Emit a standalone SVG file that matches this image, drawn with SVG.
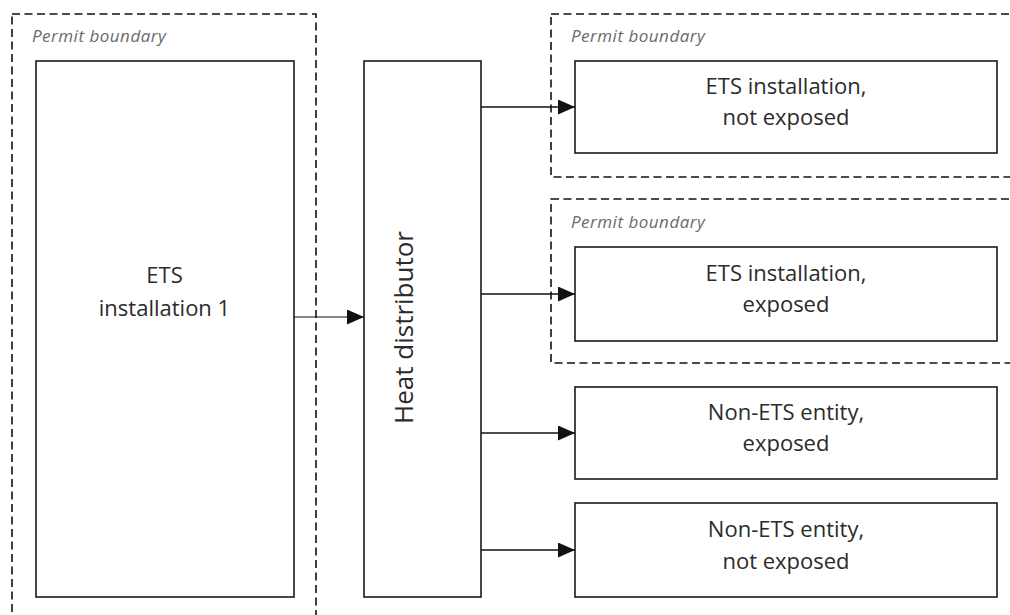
<svg xmlns="http://www.w3.org/2000/svg" width="1010" height="615" viewBox="0 0 1010 615">
  <style>
    .bg { fill: #ffffff; }
    .boundary { fill: none; stroke: #111; stroke-width: 1.6; stroke-dasharray: 8 4.5; }
    .box { fill: #ffffff; stroke: #1a1a1a; stroke-width: 1.6; }
    .label { font-family: "Open Sans", "Liberation Sans", sans-serif; font-size: 22px; fill: #2b2b2b; text-anchor: middle; }
    .big { font-size: 26px; }
    .caption { font-family: "Open Sans", "Liberation Sans", sans-serif; font-size: 17px; font-style: italic; fill: #6a6a6a; letter-spacing: 0.5px; }
    .conn { fill: none; stroke: #111; stroke-width: 1.6; }
    .thin { stroke-width: 1.1; }
  </style>
  <defs>
    <marker id="head" viewBox="0 0 17 15" refX="17" refY="7.5" markerWidth="17" markerHeight="15" markerUnits="userSpaceOnUse" orient="auto">
      <path d="M0,0 L17,7.5 L0,15 Z" fill="#111"/>
    </marker>
  </defs>

  <rect class="bg" x="0" y="0" width="1010" height="615"/>

  <!-- permit boundaries -->
  <g id="boundary-left">
    <rect class="boundary" x="12" y="14" width="304" height="620"/>
    <text class="caption" x="32" y="41.5">Permit boundary</text>
  </g>
  <g id="boundary-right-1">
    <rect class="boundary" x="551" y="14" width="480" height="163"/>
    <text class="caption" x="571" y="41.5">Permit boundary</text>
  </g>
  <g id="boundary-right-2">
    <rect class="boundary" x="551" y="199" width="480" height="164"/>
    <text class="caption" x="571" y="228">Permit boundary</text>
  </g>

  <!-- nodes -->
  <g id="ets-installation-1">
    <rect class="box" x="36" y="61" width="258" height="536"/>
    <text class="label" x="164.5" y="283">ETS</text>
    <text class="label" x="164.5" y="316">installation 1</text>
  </g>

  <g id="heat-distributor">
    <rect class="box" x="364" y="61" width="117" height="536"/>
    <text class="label big" transform="translate(413 327.5) rotate(-90)">Heat distributor</text>
  </g>

  <g id="ets-not-exposed">
    <rect class="box" x="575" y="61" width="422" height="92"/>
    <text class="label" x="786" y="94">ETS installation,</text>
    <text class="label" x="786" y="125">not exposed</text>
  </g>

  <g id="ets-exposed">
    <rect class="box" x="575" y="247" width="422" height="94"/>
    <text class="label" x="786" y="281">ETS installation,</text>
    <text class="label" x="786" y="312">exposed</text>
  </g>

  <g id="non-ets-exposed">
    <rect class="box" x="575" y="387" width="422" height="92"/>
    <text class="label" x="786" y="420">Non-ETS entity,</text>
    <text class="label" x="786" y="451">exposed</text>
  </g>

  <g id="non-ets-not-exposed">
    <rect class="box" x="575" y="503" width="422" height="94"/>
    <text class="label" x="786" y="537">Non-ETS entity,</text>
    <text class="label" x="786" y="569">not exposed</text>
  </g>

  <!-- connectors -->
  <g id="connectors">
    <line class="conn thin" x1="294" y1="317" x2="364" y2="317" marker-end="url(#head)"/>
    <line class="conn" x1="481" y1="107" x2="575" y2="107" marker-end="url(#head)"/>
    <line class="conn" x1="481" y1="294" x2="575" y2="294" marker-end="url(#head)"/>
    <line class="conn" x1="481" y1="433" x2="575" y2="433" marker-end="url(#head)"/>
    <line class="conn" x1="481" y1="550" x2="575" y2="550" marker-end="url(#head)"/>
  </g>
</svg>
